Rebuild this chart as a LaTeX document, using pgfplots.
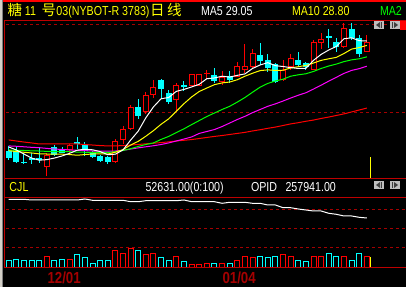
\documentclass[border=0pt]{standalone}
\usepackage{pgfplots}
\pgfplotsset{compat=1.18}
\usepackage{pgfplotstable}
\usepackage{graphicx}
\usepackage{fontspec}
\setmainfont{Liberation Sans}
\newfontfamily\cjk{Noto Sans CJK SC}

\definecolor{bdr}{RGB}{190,0,0}
\definecolor{dsh}{RGB}{165,0,0}
\definecolor{cy}{RGB}{0,255,255}
\definecolor{mg}{RGB}{255,0,255}
\definecolor{gr}{RGB}{0,255,0}
\definecolor{yl}{RGB}{255,255,0}
\definecolor{rd}{RGB}{255,0,0}
\definecolor{btn}{RGB}{192,192,192}
\definecolor{win}{RGB}{212,208,200}

% up (red) candles: index, open, high, low, close, volume
\pgfplotstableread{
i o h l c v
5 21.92 22.69 21.38 22.57 52630
8 22.91 23.20 22.69 23.09 42100
14 22.20 23.48 22.12 23.34 84210
15 23.45 24.22 23.20 24.05 68420
16 24.08 25.41 23.99 25.27 98420
18 25.02 26.15 24.93 25.98 63160
19 26.01 26.84 25.81 26.41 68420
22 25.70 26.66 25.05 26.55 52630
24 26.55 27.12 26.55 27.12 10530
25 26.55 27.12 26.55 27.12 10530
26 27.18 27.40 26.92 27.23 15790
28 26.75 27.32 26.55 26.98 21050
30 27.06 27.86 27.01 27.63 36840
31 27.46 28.88 27.23 27.63 57890
32 27.60 28.60 27.46 28.34 47370
36 26.86 27.97 26.78 27.40 63160
37 27.60 28.34 27.40 28.03 52630
40 27.43 29.11 27.38 28.99 57890
41 28.97 29.48 28.57 29.11 57890
44 28.74 30.05 28.65 29.76 52630
47 28.45 29.39 28.43 28.97 52631
}\up

% down (cyan) candles
\pgfplotstableread{
i o h l c v
0 22.80 23.09 22.29 22.46 36840
1 22.80 23.03 22.12 22.18 42100
2 22.17 22.69 22.06 22.15 36840
3 22.38 22.69 22.06 22.32 36840
4 22.38 22.97 22.12 22.32 36840
6 23.00 23.14 22.52 22.63 31580
7 22.91 23.03 22.69 22.74 42100
9 23.26 23.60 22.91 23.20 63160
10 23.11 23.34 22.52 22.83 47370
11 22.69 22.80 22.40 22.49 15790
12 22.49 22.57 22.18 22.26 31580
13 22.43 22.52 22.06 22.18 31580
17 25.27 25.76 24.62 24.82 84210
20 26.78 26.92 25.76 26.35 47370
21 26.07 26.27 25.47 25.64 36840
23 26.52 26.75 26.21 26.49 26320
27 27.09 27.49 26.66 26.78 15790
29 27.03 27.35 26.66 26.89 15790
33 28.20 28.91 27.69 27.97 52630
34 27.94 28.34 27.29 27.55 47370
35 27.72 27.80 26.66 26.75 57890
38 27.97 28.40 27.57 27.72 36840
39 27.77 27.86 27.40 27.60 26320
42 29.31 29.76 28.63 29.28 73680
43 28.97 29.22 28.45 28.74 52630
45 29.68 30.05 29.11 29.25 36840
46 29.22 29.39 28.14 28.34 68420
}\down

% moving averages
\pgfplotstableread{
i ma5 ma10 ma20 ma30 ma60
0 23.03 22.82 22.86 23.09 23.43
1 22.86 22.77 22.84 23.07 23.37
2 22.63 22.73 22.83 23.04 23.31
3 22.40 22.69 22.81 23.01 23.26
4 22.28 22.64 22.80 22.99 23.20
5 22.31 22.63 22.78 22.95 23.20
6 22.40 22.63 22.77 22.91 23.20
7 22.52 22.62 22.76 22.89 23.20
8 22.67 22.60 22.76 22.86 23.20
9 22.85 22.56 22.74 22.84 23.20
10 22.90 22.60 22.73 22.82 23.17
11 22.87 22.63 22.73 22.80 23.14
12 22.77 22.64 22.72 22.80 23.11
13 22.59 22.63 22.72 22.80 23.09
14 22.62 22.73 22.76 22.80 23.09
15 22.86 22.88 22.83 22.84 23.11
16 23.42 23.14 22.93 22.91 23.14
17 23.93 23.35 23.06 22.98 23.17
18 24.69 23.64 23.17 23.04 23.21
19 25.31 23.96 23.26 23.10 23.24
20 25.77 24.32 23.46 23.17 23.28
21 25.84 24.63 23.63 23.26 23.32
22 26.19 25.06 23.85 23.37 23.37
23 26.30 25.49 24.06 23.48 23.41
24 26.44 25.87 24.30 23.60 23.45
25 26.59 26.18 24.53 23.80 23.51
26 26.91 26.38 24.76 23.91 23.57
27 26.95 26.57 24.96 24.02 23.63
28 27.05 26.67 25.16 24.19 23.68
29 27.00 26.72 25.34 24.39 23.74
30 27.10 26.85 25.58 24.59 23.80
31 27.18 27.05 25.84 24.77 23.86
32 27.49 27.22 26.14 24.98 23.94
33 27.69 27.37 26.43 25.16 24.01
34 27.82 27.41 26.64 25.34 24.09
35 27.65 27.38 26.78 25.48 24.16
36 27.60 27.39 26.88 25.64 24.25
37 27.54 27.52 27.05 25.81 24.34
38 27.49 27.59 27.13 25.97 24.41
39 27.50 27.66 27.19 26.11 24.49
40 27.95 27.80 27.32 26.32 24.56
41 28.29 27.95 27.49 26.54 24.65
42 28.54 28.04 27.63 26.77 24.73
43 28.74 28.12 27.74 26.99 24.82
44 29.18 28.34 27.88 27.21 24.91
45 29.23 28.59 27.98 27.38 25.02
46 29.07 28.68 28.04 27.48 25.13
47 29.05 28.80 28.15 27.62 25.24
}\ma

% open interest
\pgfplotstableread{
i oi
0 356310
1 356310
2 356310
3 352630
4 352630
5 352630
6 352630
7 352630
8 352630
9 352630
10 357890
11 351050
12 351050
13 351050
14 351050
15 351050
16 343680
17 343680
18 348940
19 348940
20 348940
21 348940
22 348940
23 352630
24 343680
25 343680
26 343680
27 343680
28 335260
29 340520
30 340520
31 340520
32 335260
33 335260
34 326310
35 326310
36 312100
37 312100
38 305260
39 300000
40 294730
41 294730
42 282630
43 277370
44 268420
45 268420
46 261580
47 257941
}\oi

\newcommand{\hd}[1]{\scalebox{0.82}[1]{\fontsize{13bp}{13bp}\selectfont #1}}
\newcommand{\ck}[1]{{\fontsize{14.5bp}{14.5bp}\selectfont\cjk #1}}
\newcommand{\dt}[1]{\scalebox{0.83}[1]{\fontsize{16bp}{16bp}\selectfont\bfseries #1}}

\pgfplotsset{
  panel/.style={scale only axis, anchor=south west, width=406bp,
    xmin=-1.14173, xmax=52.1391, axis line style={draw=none},
    xtick=\empty, yticklabels={}, major tick length=0pt, scaled y ticks=false,
    ymajorgrids, grid style={dsh, line width=1bp, dash pattern=on 3bp off 3bp}},
  ebar/.style={draw=none, mark=none, forget plot,
    error bars/.cd, y dir=both, y explicit, error mark=none,
    error bar style={draw=#1, line width=1bp}},
}

\begin{document}
\begin{tikzpicture}
\useasboundingbox (0bp,0bp) rectangle (406bp,287bp);
\fill[black] (0bp,0bp) rectangle (406bp,287bp);
\begin{scope}
\clip (0bp,0bp) rectangle (406bp,287bp);
% ---- main price panel
\begin{axis}[panel, at={(0bp,109bp)}, height=158bp,
  ymin=21.2671, ymax=30.2443, ytick={25,30}]
  % down candles
  \addplot[ebar=cy] table[x=i, y expr={(\thisrow{h}+\thisrow{l})/2},
     y error expr={(\thisrow{h}-\thisrow{l})/2}] {\down};
  \addplot[draw=none, mark=none, forget plot, error bars/.cd, y dir=both, y explicit,
     error mark=none, error bar style={draw=cy, line width=6bp}]
     table[x=i, y expr={(\thisrow{o}+\thisrow{c})/2},
     y error expr={abs(\thisrow{o}-\thisrow{c})/2+0.0284}] {\down};
  % up candles
  \addplot[ebar=rd] table[x=i, y expr={(\thisrow{h}+\thisrow{l})/2},
     y error expr={(\thisrow{h}-\thisrow{l})/2}] {\up};
  \addplot[draw=none, mark=none, forget plot, error bars/.cd, y dir=both, y explicit,
     error mark=none, error bar style={draw=rd, line width=6bp}]
     table[x=i, y expr={(\thisrow{o}+\thisrow{c})/2},
     y error expr={abs(\thisrow{o}-\thisrow{c})/2+0.0284}] {\up};
  \addplot[draw=none, mark=none, forget plot, error bars/.cd, y dir=both, y explicit,
     error mark=none, error bar style={draw=black, line width=4bp}]
     table[x=i, y expr={(\thisrow{o}+\thisrow{c})/2},
     y error expr={max(abs(\thisrow{o}-\thisrow{c})/2-0.0284,0)}] {\up};
  % moving averages
  \addplot[rd, line width=1bp, mark=none] table[x=i, y=ma60] {\ma};
  \addplot[mg, line width=1bp, mark=none] table[x=i, y=ma30] {\ma};
  \addplot[gr, line width=1bp, mark=none] table[x=i, y=ma20] {\ma};
  \addplot[yl, line width=1bp, mark=none] table[x=i, y=ma10] {\ma};
  \addplot[white, line width=1bp, mark=none] table[x=i, y=ma5] {\ma};
\end{axis}
% ---- volume / open interest panel
\begin{axis}[panel, at={(0bp,20bp)}, height=70bp,
  ymin=0, ymax=368417, ytick={100000,200000,300000}]
  \addplot[ybar, bar width=5bp, bar shift=0pt, draw=rd, fill=black, line width=1bp]
     table[x=i, y=v] {\up};
  \addplot[ybar, bar width=5bp, bar shift=0pt, draw=cy, fill=black, line width=1bp]
     table[x=i, y=v] {\down};
  \addplot[white, line width=1bp, mark=none] table[x=i, y=oi] {\oi};
\end{axis}
\end{scope}

\begin{scope}[x=1bp, y=1bp]
% ---- frame
\fill[win] (0,0) rectangle (1.7,287);
\fill[gray] (1.7,0) rectangle (2.7,287);
\fill[rd] (2.7,285) rectangle (406,287);
\draw[bdr, line width=1bp] (4,266.5) -- (406,266.5);
\draw[bdr, line width=1bp] (4,108.5) -- (406,108.5);
\draw[bdr, line width=1bp] (4,89.5) -- (406,89.5);
\draw[bdr, line width=1bp] (4,19.5) -- (406,19.5);
\draw[bdr, line width=1bp] (4.5,19.5) -- (4.5,266.5);
\draw[yl, line width=1bp] (370.3,109) -- (370.3,130);
\draw[yl, line width=1bp] (370.3,20) -- (370.3,30);
\fill[rd] (400,257) rectangle (406,266);
% buttons
\foreach \by in {258,98}{
  \fill[btn] (374,\by) rectangle (384,\by+8);
  \fill[black!75] (376,\by+4) -- (380,\by+7) -- (380,\by+1) -- cycle;
  \fill[black!75] (381,\by+1) rectangle (382,\by+7);
  \fill[btn] (390,\by) rectangle (400,\by+8);
  \fill[black!75] (398,\by+4) -- (394,\by+7) -- (394,\by+1) -- cycle;
  \fill[black!75] (392,\by+1) rectangle (393,\by+7);
}
% ---- texts
\begin{scope}[every node/.style={inner sep=0pt, outer sep=0pt, anchor=base west}]
\node[text=yl] at (7.5,272) {\ck{糖}};
\node[text=yl] at (25,272) {\hd{11}};
\node[text=yl] at (41.5,272) {\ck{号}};
\node[text=yl] at (56.5,272) {\hd{03(NYBOT-R 3783)}};
\node[text=yl] at (150,272) {\ck{日}};
\node[text=yl] at (167,272) {\ck{线}};
\node[text=white] at (201,272) {\hd{MA5 29.05}};
\node[text=yl] at (292,272) {\hd{MA10 28.80}};
\node[text=gr] at (380,272) {\hd{MA2}};
\node[text=yl] at (9.5,95.3) {\hd{CJL}};
\node[text=white] at (145.5,95.3) {\hd{52631.00(0:100)}};
\node[text=white] at (251,95.3) {\hd{OPID}};
\node[text=white] at (285.5,95.3) {\hd{257941.00}};
\node[text=dsh] at (47.5,3.5) {\dt{12/01}};
\node[text=dsh] at (222.5,3.5) {\dt{01/04}};
\end{scope}
\end{scope}
\end{tikzpicture}
\end{document}
